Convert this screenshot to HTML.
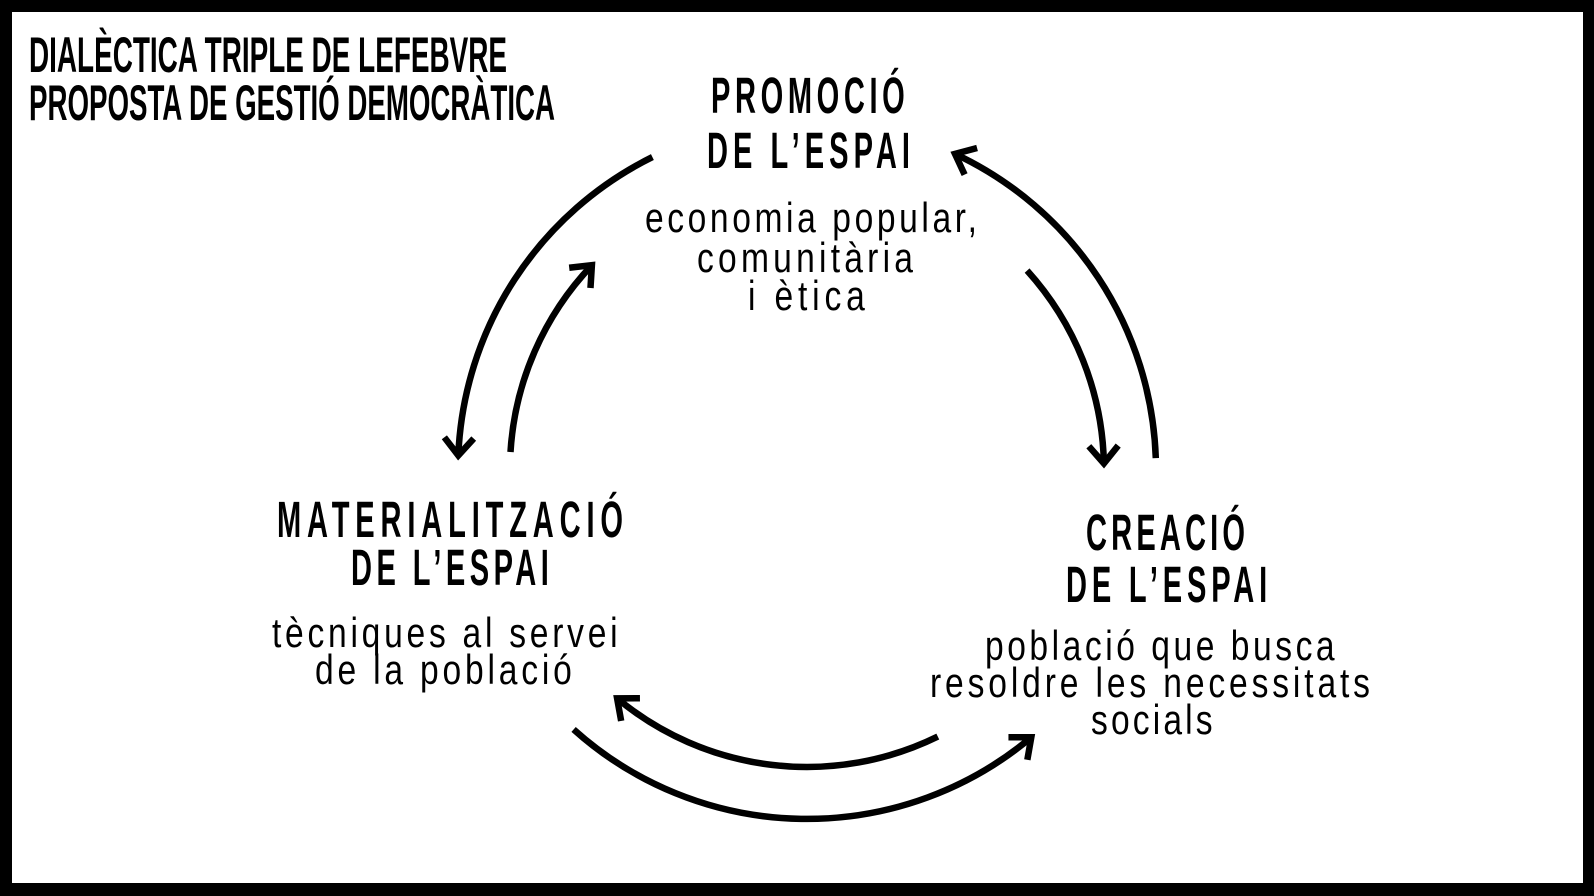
<!DOCTYPE html>
<html>
<head>
<meta charset="utf-8">
<style>
  html, body { margin:0; padding:0; background:#000; }
  body { width:1594px; height:896px; overflow:hidden; }
  svg { display:block; }
  .title { font-family:"Liberation Sans", sans-serif; font-weight:bold; font-size:50px; fill:#000; }
  .head { font-family:"Liberation Sans", sans-serif; font-weight:bold; font-size:51px; fill:#000; }
  .body { font-family:"Liberation Sans", sans-serif; font-weight:normal; font-size:42px; fill:#000; }
  .arc { fill:none; stroke:#000; stroke-width:6.5; stroke-linecap:butt; }
</style>
</head>
<body>
<svg width="1594" height="896" viewBox="0 0 1594 896" xmlns="http://www.w3.org/2000/svg">
  <defs>
    <marker id="ah" markerUnits="userSpaceOnUse" orient="auto" refX="0" refY="0" markerWidth="60" markerHeight="60" viewBox="-30 -30 60 60" overflow="visible">
      <path d="M-17.5,-14.7 L0,0 L-17.5,14.7" fill="none" stroke="#000" stroke-width="6.5" stroke-linejoin="miter" stroke-linecap="butt"/>
    </marker>
  </defs>

  <rect x="0" y="0" width="1594" height="896" fill="#000"/>
  <rect x="12" y="12" width="1571" height="871" fill="#fff"/>

  <!-- Title -->
  <text class="title" x="29" y="72" textLength="478" lengthAdjust="spacingAndGlyphs">DIALÈCTICA TRIPLE DE LEFEBVRE</text>
  <text class="title" x="29" y="120" textLength="526" lengthAdjust="spacingAndGlyphs">PROPOSTA DE GESTIÓ DEMOCRÀTICA</text>

  <!-- Top node -->
  <text class="head" transform="translate(711,113) scale(0.57,1)" x="0" y="0" textLength="340" lengthAdjust="spacing">PROMOCIÓ</text>
  <text class="head" transform="translate(707,168) scale(0.57,1)" x="0" y="0" textLength="356" lengthAdjust="spacing">DE L’ESPAI</text>
  <text class="body" transform="translate(645,232) scale(0.8,1)" x="0" y="0" textLength="415" lengthAdjust="spacing">economia popular,</text>
  <text class="body" transform="translate(697,272) scale(0.8,1)" x="0" y="0" textLength="270" lengthAdjust="spacing">comunitària</text>
  <text class="body" transform="translate(748,310) scale(0.8,1)" x="0" y="0" textLength="146" lengthAdjust="spacing">i ètica</text>

  <!-- Left node -->
  <text class="head" transform="translate(277,537) scale(0.57,1)" x="0" y="0" textLength="607" lengthAdjust="spacing">MATERIALITZACIÓ</text>
  <text class="head" transform="translate(351,585) scale(0.57,1)" x="0" y="0" textLength="347" lengthAdjust="spacing">DE L’ESPAI</text>
  <text class="body" transform="translate(272,647) scale(0.8,1)" x="0" y="0" textLength="432" lengthAdjust="spacing">tècniques al servei</text>
  <text class="body" transform="translate(315,684) scale(0.8,1)" x="0" y="0" textLength="321" lengthAdjust="spacing">de la població</text>

  <!-- Right node -->
  <text class="head" transform="translate(1086,550) scale(0.57,1)" x="0" y="0" textLength="279" lengthAdjust="spacing">CREACIÓ</text>
  <text class="head" transform="translate(1066,602) scale(0.57,1)" x="0" y="0" textLength="353" lengthAdjust="spacing">DE L’ESPAI</text>
  <text class="body" transform="translate(985,660) scale(0.8,1)" x="0" y="0" textLength="437" lengthAdjust="spacing">població que busca</text>
  <text class="body" transform="translate(930,697) scale(0.8,1)" x="0" y="0" textLength="550" lengthAdjust="spacing">resoldre les necessitats</text>
  <text class="body" transform="translate(1091,734) scale(0.8,1)" x="0" y="0" textLength="152" lengthAdjust="spacing">socials</text>

  <!-- Arrows: outer circle center (807,470) R=349, inner r=297 -->
  <path class="arc" d="M652.4,157.1 A349,349 0 0 0 458.3,455.4" marker-end="url(#ah)"/>
  <path class="arc" d="M510.5,452.0 A297,297 0 0 1 591.9,265.2" marker-end="url(#ah)"/>
  <path class="arc" d="M1155.8,458.1 A349,349 0 0 0 955.0,153.9" marker-end="url(#ah)"/>
  <path class="arc" d="M1027.1,270.6 A297,297 0 0 1 1103.9,463.4" marker-end="url(#ah)"/>
  <path class="arc" d="M573.6,729.4 A349,349 0 0 0 1031.3,737.3" marker-end="url(#ah)"/>
  <path class="arc" d="M937.8,736.6 A297,297 0 0 1 617.1,698.4" marker-end="url(#ah)"/>
</svg>
</body>
</html>
